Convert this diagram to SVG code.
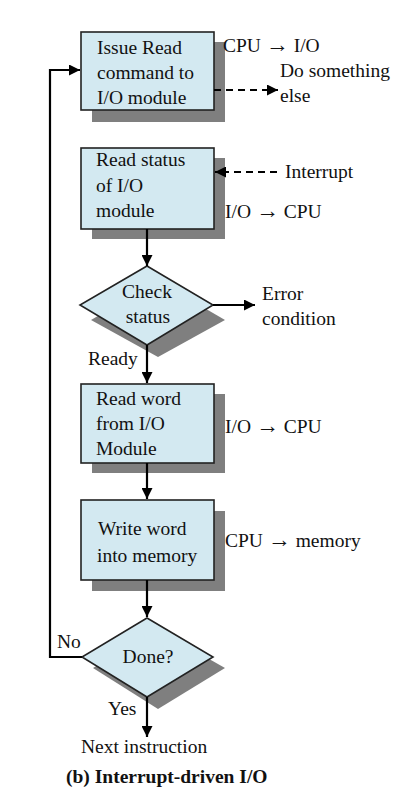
<svg xmlns="http://www.w3.org/2000/svg" width="414" height="812" viewBox="0 0 414 812">
<style>
text{font-family:"Liberation Serif","Times New Roman",serif;font-size:19.5px;fill:#111}
.b{font-weight:bold}
.m{text-anchor:middle}
.ar{font-size:23px}
.box{fill:#d3e9f1;stroke:#222;stroke-width:1.6}
.sh{fill:#7f7f7f;stroke:none}
.ln{fill:none;stroke:#000;stroke-width:2.2}
.ds{fill:none;stroke:#000;stroke-width:2.2;stroke-dasharray:7,5}
</style>
<defs>
<marker id="ah" viewBox="0 0 10 10" refX="10" refY="5" markerWidth="11" markerHeight="11" markerUnits="userSpaceOnUse" orient="auto">
<path d="M0,0 L10,5 L0,10 Z" fill="#000"/>
</marker>
</defs>
<rect width="414" height="812" fill="#fff"/>
<g id="n1">
<rect class="sh" x="92" y="42" width="133" height="80"/>
<rect class="box" x="81" y="32" width="133" height="78"/>
<text x="97" y="54">Issue Read</text>
<text x="97" y="79">command to</text>
<text x="97" y="104">I/O module</text>
</g>
<g id="n2">
<rect class="sh" x="92" y="158" width="133" height="81"/>
<rect class="box" x="81" y="148" width="133" height="81"/>
<text x="96" y="166">Read status</text>
<text x="96" y="192">of I/O</text>
<text x="96" y="217">module</text>
</g>
<g id="n3">
<path class="sh" d="M158,281 L225,320 L158,357 L91,320 Z"/>
<path class="box" d="M147,266 L213,305 L147,345 L80,305 Z"/>
<text class="m" x="147" y="298">Check</text>
<text class="m" x="148" y="323">status</text>
</g>
<g id="n4">
<rect class="sh" x="92" y="394" width="133" height="79"/>
<rect class="box" x="81" y="384" width="133" height="79"/>
<text x="96" y="405">Read word</text>
<text x="96" y="430">from I/O</text>
<text x="96" y="455">Module</text>
</g>
<g id="n5">
<rect class="sh" x="92" y="511" width="133" height="80"/>
<rect class="box" x="81" y="500" width="133" height="80"/>
<text x="98" y="535">Write word</text>
<text x="97" y="562">into memory</text>
</g>
<g id="n6">
<path class="sh" d="M158,630 L225,668 L158,709 L93,668 Z"/>
<path class="box" d="M147,618 L213,657 L147,697 L82,657 Z"/>
<text class="m" x="148" y="663">Done?</text>
</g>
<g id="connectors">
<path class="ln" d="M82,657 H50 V70 H80" marker-end="url(#ah)"/>
<path class="ds" d="M214,90 H278" marker-end="url(#ah)"/>
<path class="ds" d="M277,172 H215" marker-end="url(#ah)"/>
<path class="ln" d="M147,229 V266" marker-end="url(#ah)"/>
<path class="ln" d="M213,305 H255" marker-end="url(#ah)"/>
<path class="ln" d="M147,345 V383" marker-end="url(#ah)"/>
<path class="ln" d="M147,463 V499" marker-end="url(#ah)"/>
<path class="ln" d="M147,580 V617" marker-end="url(#ah)"/>
<path class="ln" d="M147,697 V737" marker-end="url(#ah)"/>
</g>
<g id="labels">
<text x="223" y="52">CPU <tspan class="ar">→</tspan> I/O</text>
<text x="280" y="77">Do something</text>
<text x="280" y="102">else</text>
<text x="285" y="178">Interrupt</text>
<text x="225" y="218">I/O <tspan class="ar">→</tspan> CPU</text>
<text x="262" y="300">Error</text>
<text x="262" y="325">condition</text>
<text x="88" y="365">Ready</text>
<text x="225" y="433">I/O <tspan class="ar">→</tspan> CPU</text>
<text x="225" y="547">CPU <tspan class="ar">→</tspan> memory</text>
<text x="57" y="648">No</text>
<text x="108" y="715">Yes</text>
<text x="81" y="753">Next instruction</text>
<text class="b" x="66" y="783">(b) Interrupt-driven I/O</text>
</g>
</svg>
